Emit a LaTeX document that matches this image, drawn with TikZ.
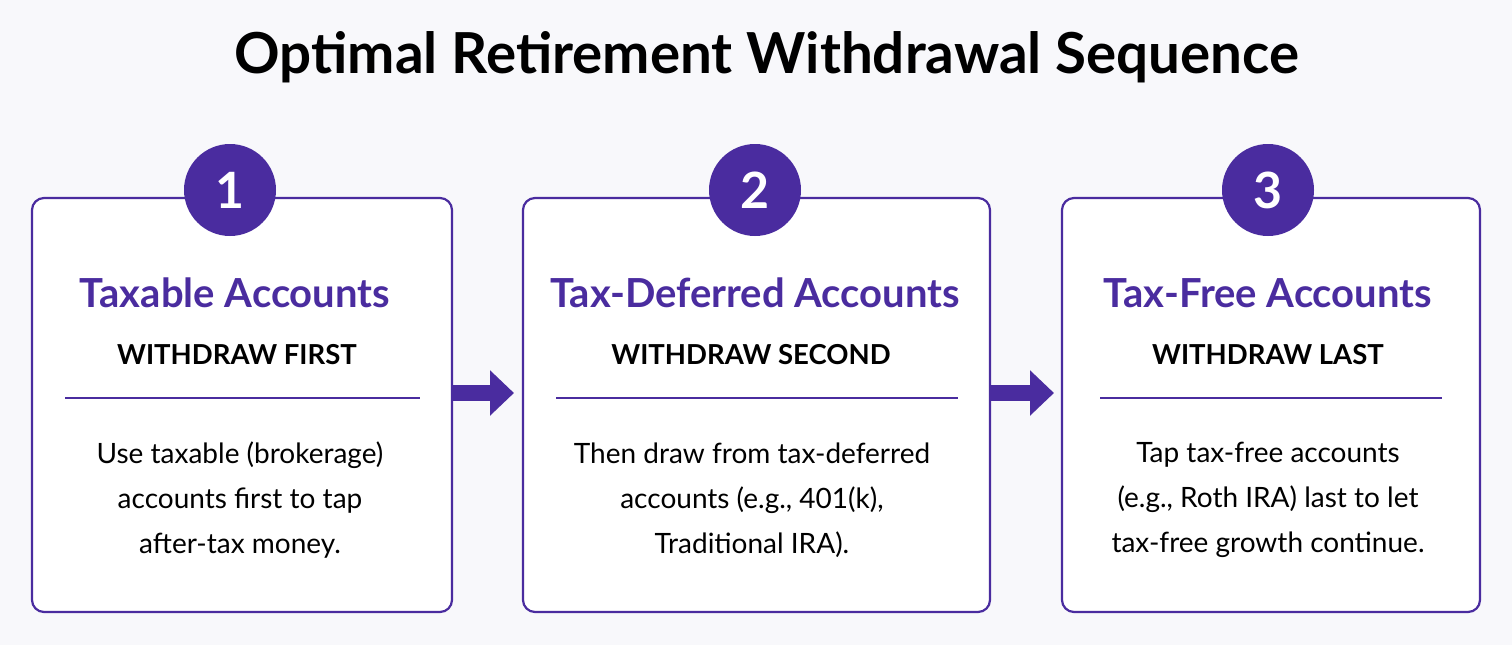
\documentclass[tikz,border=0pt]{standalone}
\usepackage{fontspec}
\setmainfont{Lato}
\usetikzlibrary{arrows.meta}
\definecolor{plum}{HTML}{4A2C9F}
\definecolor{paper}{HTML}{F8F8FB}
\begin{document}
\begin{tikzpicture}[x={(1pt,0pt)},y={(0pt,-1pt)},
	card/.style={draw=plum,line width=2.2pt,rounded corners=12pt,fill=white},
	badge/.style={circle,fill=plum,minimum size=92pt,text=white,font=\fontsize{50}{50}\selectfont\bfseries},
	head/.style={text=plum,font=\fontsize{40}{44}\selectfont\bfseries},
	phase/.style={font=\fontsize{27.5}{30}\selectfont\bfseries},
	body/.style={align=center,font=\fontsize{28}{45}\selectfont},
	flow/.style={plum,line width=16pt,-{Triangle[length=24pt,width=44pt]}}]
	\fill[paper] (0,0) rectangle (1512,645);
	\useasboundingbox (0,0) rectangle (1512,645);
	\node[font=\fontsize{56.5}{60}\selectfont\bfseries] (title) at (767,57) {Optimal Retirement Withdrawal Sequence};
	% cards
	\draw[card] (32,198) rectangle (452,612);
	\draw[card] (523,198) rectangle (990,612);
	\draw[card] (1062,198) rectangle (1480,612);
	\node[badge] (b1) at (230,190) {1};
	\node[badge] (b2) at (755,190) {2};
	\node[badge] (b3) at (1268,190) {3};
	\node[head] (h1) at (235,293) {Taxable Accounts};
	\node[head] (h2) at (755,293) {Tax-Deferred Accounts};
	\node[head] (h3) at (1268,293) {Tax-Free Accounts};
	\node[phase] (s1) at (237,355) {WITHDRAW FIRST};
	\node[phase] (s2) at (751,355) {WITHDRAW SECOND};
	\node[phase] (s3) at (1268,355) {WITHDRAW LAST};
	\draw[plum,line width=1.5pt] (65,398) -- (420,398) (556,398) -- (958,398) (1100,398) -- (1442,398);
	\node[body] (t1) at (240,500) {Use taxable (brokerage)\\accounts first to tap\\after-tax money.};
	\node[body] (t2) at (752,500) {Then draw from tax-deferred\\accounts (e.g., 401(k),\\Traditional IRA).};
	\node[body] (t3) at (1268,500) {Tap tax-free accounts\\(e.g., Roth IRA) last to let\\tax-free growth continue.};
	% arrows
	\coordinate (a1) at (452,393); \coordinate (a2) at (514,393);
	\coordinate (a3) at (990,393); \coordinate (a4) at (1054,393);
	\draw[flow] (a1) -- (a2);
	\draw[flow] (a3) -- (a4);
\end{tikzpicture}
\end{document}
